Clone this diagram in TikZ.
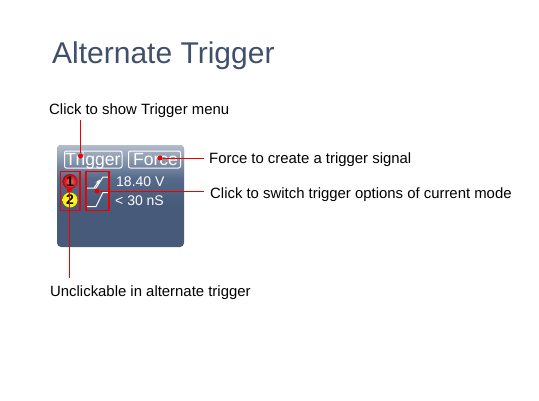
\documentclass[tikz,border=0pt]{standalone}
\usepackage{fontspec}
\usetikzlibrary{arrows.meta,shadings}
\setmainfont{Liberation Sans}
\definecolor{titlec}{HTML}{3F4F6C}
\definecolor{paneltop}{HTML}{B4BDCB}
\definecolor{panelmid}{HTML}{566A8A}
\definecolor{panelbot}{HTML}{475A7A}
\definecolor{redc}{HTML}{EE0000}
\tikzset{
  callout/.style={anchor=base west,font=\fontsize{14.9}{16}\selectfont,text=black,inner sep=0pt},
  btntext/.style={text=white,font=\fontsize{17.6}{20}\selectfont,inner sep=0pt,anchor=base},
  readout/.style={text=white,font=\fontsize{14}{16}\selectfont,anchor=base west,inner sep=0pt},
  badge/.style={circle,minimum size=15pt,inner sep=0pt,text=black,font=\bfseries\fontsize{14}{14}\selectfont},
  redbox/.style={draw=redc,line width=1.1pt},
  redline/.style={draw=redc,line width=1pt},
  dot/.style={circle,fill=redc,minimum size=5pt,inner sep=0pt},
  wave/.style={draw=white,line width=1pt},
}
\begin{document}
\begin{tikzpicture}[x=1pt,y=-1pt]
\useasboundingbox (0,0) rectangle (539,400);
\fill[white] (0,0) rectangle (539,400);
\node[anchor=base west,inner sep=0pt,text=titlec,font=\fontsize{30}{33}\selectfont] (title) at (52,63) {Alternate Trigger};
% panel
\fill[panelbot,rounded corners=4pt] (57,145) rectangle (184,247);
\begin{scope}
\clip[rounded corners=4pt] (57,145) rectangle (184,247);
\shade[top color=paneltop,bottom color=panelmid] (57,145) rectangle (184,178);
\shade[top color=panelmid,bottom color=panelbot] (57,178) rectangle (184,205);
\end{scope}
\node[btntext] (trigtext) at (93,165.5) {Trigger};
\node[btntext] (forcetext) at (155.5,165.5) {Force};
\draw[white,line width=1pt,rounded corners=2pt] (64.5,151) rectangle (122,168);
\draw[white,line width=1pt,rounded corners=2pt] (128.5,151) rectangle (180.5,168);
% channel badges
\node[badge,inner color=red!55!white,outer color=red!75!black] (ch1) at (70,181.5) {1};
\node[badge,inner color=yellow!70!white,outer color=yellow!95!black] (ch2) at (70,200) {2};
% waves
\draw[wave] (87,188) -- (96,188) -- (103,177) -- (108,177);
\draw[wave,-{Stealth[length=5pt,width=4pt]}] (94,188) -- (100,179.5);
\draw[wave] (87,206.5) -- (96,206.5) -- (103,192.5) -- (108,192.5);
\node[readout] (v1) at (116,186) {18.40 V};
\node[readout] (v2) at (115,205) {< 30 nS};
% red boxes
\draw[redbox] (60.5,171.5) rectangle (80,210.5);
\draw[redbox] (86,171.5) rectangle (109,210.5);
% labels
\node[callout] (l1) at (49,114) {Click to show Trigger menu};
\node[callout] (l2) at (209,163) {Force to create a trigger signal};
\node[callout] (l3) at (210,198.5) {Click to switch trigger options of current mode};
\node[callout] (l4) at (50,296.5) {Unclickable in alternate trigger};
\coordinate (c1) at (80.5,120);
\coordinate (c2) at (204,158);
\coordinate (c3) at (204,191);
\coordinate (c4) at (69.3,278);
\node[dot] (d1) at (80.5,156) {};
\node[dot] (d2) at (160,158) {};
\node[dot] (d3) at (97,191) {};
\node[dot] (d4) at (69.3,190) {};
\draw[redline] (c1) -- (d1);
\draw[redline] (c2) -- (d2);
\draw[redline] (c3) -- (d3);
\draw[redline] (c4) -- (d4);
\end{tikzpicture}
\end{document}
